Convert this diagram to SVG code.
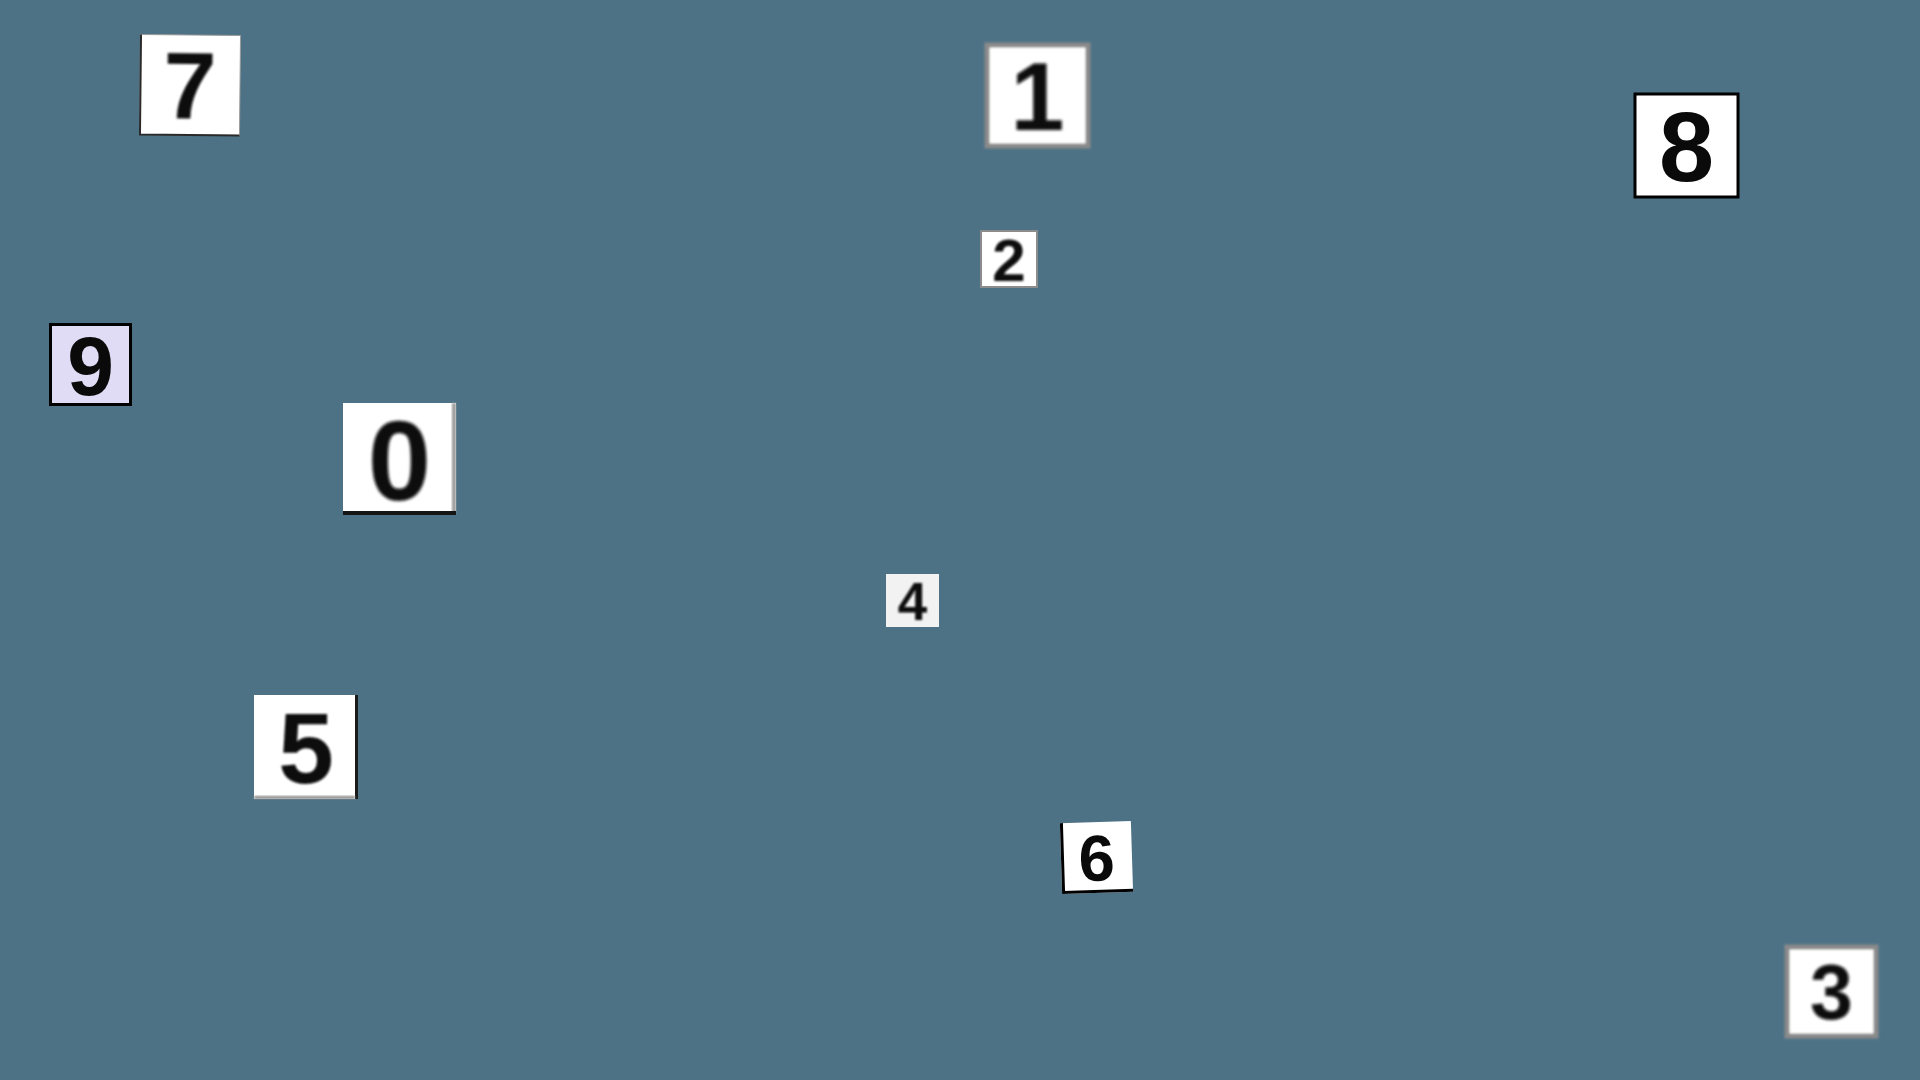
<svg xmlns="http://www.w3.org/2000/svg" width="1920" height="1080" viewBox="0 0 1920 1080">
<defs>
<style>
.d{font-family:"Liberation Sans",Arial,sans-serif;font-weight:bold;fill:#0a0a0a;text-anchor:middle}
.t{fill:#ffffff}
</style>
<filter id="soft" x="-10%" y="-10%" width="120%" height="120%"><feGaussianBlur stdDeviation="0.9"/></filter>
<filter id="soft2" x="-10%" y="-10%" width="120%" height="120%"><feGaussianBlur stdDeviation="1.6"/></filter>
</defs>
<rect width="1920" height="1080" fill="#4d7286"/>
<g id="tile-7" transform="rotate(0.6 190 85)">
<rect class="t" x="140" y="35" width="100" height="100" stroke="#9a9a9a" stroke-width="1"/>
<path d="M140.5 35 V135 H240" fill="none" stroke="#2a2a2a" stroke-width="2"/>
<text class="d" x="190" y="119" font-size="95" filter="url(#soft)">7</text>
</g>
<g id="tile-1">
<rect class="t" x="987" y="45" width="101" height="101" stroke="#8a8a8a" stroke-width="5" filter="url(#soft)"/>
<text class="d" x="1037.5" y="130" font-size="97" filter="url(#soft2)">1</text>
</g>
<g id="tile-8">
<rect class="t" x="1635" y="94" width="103" height="103" stroke="#000" stroke-width="3"/>
<text class="d" x="1686.5" y="181" font-size="99">8</text>
</g>
<g id="tile-2">
<rect class="t" x="981" y="231" width="56" height="56" stroke="#8c8c8c" stroke-width="2"/>
<text class="d" x="1009" y="280.5" font-size="60" filter="url(#soft)">2</text>
</g>
<g id="tile-9">
<rect x="50.5" y="324.5" width="80" height="80" fill="#e1dcf5" stroke="#000" stroke-width="3"/>
<text class="d" x="90.5" y="394.6" font-size="84">9</text>
</g>
<g id="tile-0">
<rect class="t" x="343" y="403" width="113" height="112"/>
<rect x="452" y="403" width="4" height="110" fill="#9a9a9a" filter="url(#soft)"/>
<rect x="343" y="511" width="113" height="4" fill="#151515"/>
<text class="d" x="399.5" y="499.8" font-size="114" filter="url(#soft2)">0</text>
</g>
<g id="tile-4">
<rect x="886" y="574" width="53" height="53" fill="#f2f2f2"/>
<text class="d" x="912.5" y="619.5" font-size="53" filter="url(#soft)">4</text>
</g>
<g id="tile-5">
<rect class="t" x="254" y="695" width="104" height="104"/>
<rect x="355" y="695" width="3" height="104" fill="#1a1a1a"/>
<rect x="254" y="796" width="101" height="3" fill="#8a8a8a" filter="url(#soft)"/>
<text class="d" x="306" y="782.8" font-size="100" filter="url(#soft)">5</text>
</g>
<g id="tile-6" transform="rotate(-1.8 1096.5 857.5)">
<rect class="t" x="1061" y="822" width="71" height="71"/>
<path d="M1062.5 822 V891.5 H1132" fill="none" stroke="#000" stroke-width="3"/>
<text class="d" x="1096.5" y="880.8" font-size="65">6</text>
</g>
<g id="tile-3">
<rect class="t" x="1787" y="947" width="89" height="89" stroke="#8a8a8a" stroke-width="5" filter="url(#soft)"/>
<text class="d" x="1831.5" y="1019" font-size="77" filter="url(#soft2)">3</text>
</g>
<g id="connectors"/>
</svg>
